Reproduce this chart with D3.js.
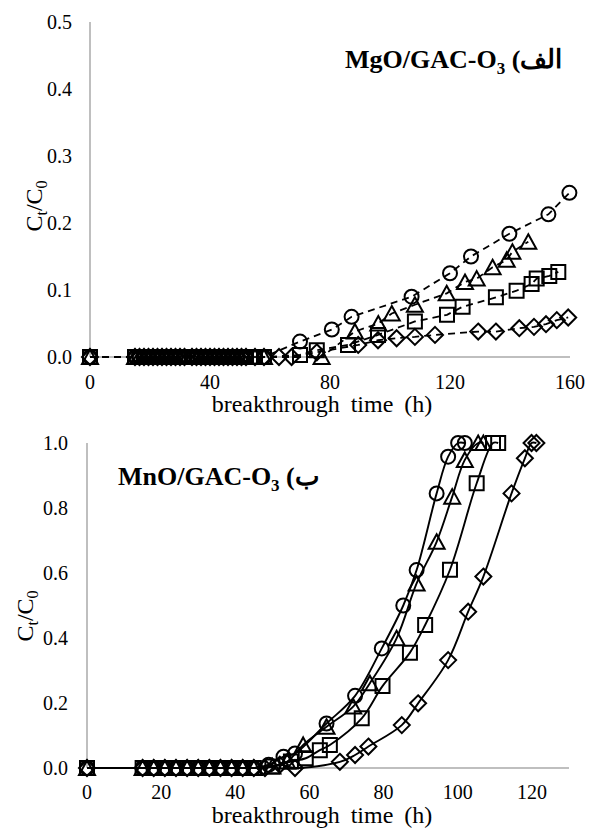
<!DOCTYPE html>
<html>
<head>
<meta charset="utf-8">
<script src="https://cdn.jsdelivr.net/npm/d3@7"></script>
<style>
  html, body { margin: 0; padding: 0; background: #fff; }
  svg { display: block; }
</style>
</head>
<body>
<div id="chart"></div>
<script>
// ---- datos: panel superior (MgO/GAC-O3), tiempo en h y Ct/C0 ----
const mgoZeroT = [0, 15, 16.5, 18, 19.5, 21, 22.5, 24, 25.5, 27, 28.5, 30, 31.5, 34, 35.5, 37, 38.5, 40, 41.5, 43, 44.5, 46, 47.5, 49, 50.5, 52, 55, 58];

const mgoCircleT = [70, 80.6, 87.2, 107.2, 120, 127, 139.8, 152.8, 159.8];
const mgoCircleV = [0.023, 0.041, 0.060, 0.090, 0.125, 0.150, 0.184, 0.213, 0.245];

const mgoTriangleT = [77.2, 88.3, 96.1, 100.6, 108.3, 118.9, 125, 128.9, 134.2, 138.9, 140.8, 146.1];
const mgoTriangleV = [0, 0.038, 0.050, 0.065, 0.078, 0.095, 0.112, 0.117, 0.134, 0.145, 0.157, 0.172];

const mgoSquareT = [70, 75.6, 86, 96, 108.3, 119, 124.2, 135.3, 142.2, 147.2, 148.9, 153.1, 156.1];
const mgoSquareV = [0.003, 0.010, 0.018, 0.033, 0.053, 0.063, 0.075, 0.089, 0.099, 0.109, 0.117, 0.121, 0.127];

const mgoDiamondT = [63, 67.2, 75.6, 89.4, 96, 102.2, 108.3, 115, 129.4, 135.3, 143.1, 148, 152, 155.6, 159.4];
const mgoDiamondV = [0, 0, 0.007, 0.018, 0.025, 0.028, 0.030, 0.033, 0.038, 0.038, 0.043, 0.045, 0.049, 0.055, 0.059];

const mgoXTicks = [0, 40, 80, 120, 160];
const mgoYTicks = [0, 0.1, 0.2, 0.3, 0.4, 0.5];

// ---- datos: panel inferior (MnO/GAC-O3) ----
const mnoZeroT = [0, 15, 18, 21, 24, 27, 30, 33, 36, 39, 42, 45];

const mnoCircleT = [49, 53, 56.1, 64.6, 72.3, 79.5, 85.3, 88.9, 94.3, 97.4, 100.1, 101.9];
const mnoCircleV = [0.01, 0.035, 0.045, 0.137, 0.222, 0.368, 0.50, 0.609, 0.845, 0.958, 1.0, 1.0];

const mnoTriangleT = [50, 54, 58.3, 64.6, 71.8, 76.3, 83.5, 88.9, 94.3, 98.5, 101.9, 105.5, 106.9];
const mnoTriangleV = [0.005, 0.02, 0.071, 0.127, 0.189, 0.261, 0.399, 0.568, 0.696, 0.835, 0.948, 1.0, 1.0];

const mnoSquareT = [50, 55, 59, 62.8, 65.5, 74.1, 79.7, 87.1, 91.2, 97.9, 105.1, 109.5, 110.9];
const mnoSquareV = [0.005, 0.02, 0.03, 0.055, 0.071, 0.153, 0.252, 0.355, 0.44, 0.61, 0.876, 1.0, 1.0];

const mnoDiamondT = [48, 52, 56.1, 68.2, 72.3, 75.9, 84.9, 89.3, 97.4, 102.8, 106.9, 114.5, 118.1, 119.9, 121.2];
const mnoDiamondV = [0, 0.01, 0, 0.019, 0.04, 0.066, 0.132, 0.199, 0.332, 0.481, 0.589, 0.845, 0.953, 1.0, 1.0];

const mnoXTicks = [0, 20, 40, 60, 80, 100, 120];
const mnoYTicks = [0, 0.2, 0.4, 0.6, 0.8, 1.0];

const width = 591;
const height = 828;
const serif = '"Liberation Serif", "Times New Roman", serif';

const svg = d3.select('#chart').append('svg')
  .attr('width', width)
  .attr('height', height);

// une ceros + puntos de ruptura en una sola serie
function build(zeroT, t, v) {
  return zeroT.map(d => ({ t: d, v: 0 })).concat(t.map((d, i) => ({ t: d, v: v[i] })));
}

// formas de los marcadores
function markerPath(shape) {
  const p = d3.path();
  if (shape === 'circle') {
    p.arc(0, 0, 7, 0, 2 * Math.PI);
  } else if (shape === 'square') {
    p.rect(-7, -7, 14, 14);
  } else if (shape === 'triangle') {
    p.moveTo(0, -7.5); p.lineTo(8, 7); p.lineTo(-8, 7); p.closePath();
  } else {
    p.moveTo(0, -8); p.lineTo(8, 0); p.lineTo(0, 8); p.lineTo(-8, 0); p.closePath();
  }
  return p.toString();
}

function drawPanel(o) {
  const x = d3.scaleLinear().domain(o.xDomain).range([o.left, o.right]);
  const y = d3.scaleLinear().domain(o.yDomain).range([o.bottom, o.top]);
  const g = svg.append('g');

  // ejes (solo líneas grises)
  g.append('line')
    .attr('x1', x(0)).attr('x2', x(0))
    .attr('y1', y(o.yDomain[1])).attr('y2', y(0))
    .attr('stroke', '#bfbfbf').attr('stroke-width', 2);
  g.append('line')
    .attr('x1', x(0)).attr('x2', x(o.xDomain[1]))
    .attr('y1', y(0)).attr('y2', y(0))
    .attr('stroke', '#bfbfbf').attr('stroke-width', 2);

  // etiquetas de ticks
  g.selectAll('.ytick').data(o.yTicks).enter().append('text')
    .attr('x', x(0) - o.yTickGap)
    .attr('y', d => y(d))
    .attr('dy', '0.35em')
    .attr('text-anchor', 'end')
    .attr('font-family', serif).attr('font-size', 20).attr('fill', '#000')
    .text(d => d.toFixed(1));
  g.selectAll('.xtick').data(o.xTicks).enter().append('text')
    .attr('x', d => x(d))
    .attr('y', o.xTickY)
    .attr('text-anchor', 'middle')
    .attr('font-family', serif).attr('font-size', 20).attr('fill', '#000')
    .text(d => d);

  // series
  const line = d3.line().x(d => x(d.t)).y(d => y(d.v)).curve(o.curve);
  o.series.forEach(s => {
    g.append('path')
      .attr('d', line(s.data))
      .attr('fill', 'none')
      .attr('stroke', '#000')
      .attr('stroke-width', o.lineWidth)
      .attr('stroke-dasharray', o.dash);
  });
  o.series.forEach(s => {
    g.selectAll(null).data(s.data).enter().append('path')
      .attr('transform', d => `translate(${x(d.t)},${y(d.v)})`)
      .attr('d', markerPath(s.shape))
      .attr('fill', 'none')
      .attr('stroke', '#000')
      .attr('stroke-width', 2);
  });

  // título del eje x
  g.append('text')
    .attr('x', o.xTitleX).attr('y', o.xTitleY)
    .attr('text-anchor', 'middle')
    .attr('font-family', serif).attr('font-size', 24)
    .attr('word-spacing', 5)
    .text('breakthrough time (h)');

  // título del eje y: Ct/C0
  const yt = g.append('text')
    .attr('transform', `translate(${o.yTitleX},${o.yTitleY}) rotate(-90)`)
    .attr('text-anchor', 'middle')
    .attr('font-family', serif).attr('font-size', 24);
  yt.append('tspan').text('C');
  yt.append('tspan').attr('font-size', 16).attr('dy', 5).text('t');
  yt.append('tspan').attr('dy', -5).text('/C');
  yt.append('tspan').attr('font-size', 16).attr('dy', 5).text('0');

  // etiqueta del panel
  const lab = g.append('text')
    .attr('x', o.labelX).attr('y', o.labelY)
    .attr('font-family', serif).attr('font-size', 26).attr('font-weight', 'bold');
  lab.append('tspan').text(o.labelMain);
  lab.append('tspan').attr('font-size', 17).attr('dy', 6).text('3');
  lab.append('tspan').attr('dy', -6).text(' ' + o.labelAr + '\u200F');
}

drawPanel({
  xDomain: [0, 160], yDomain: [0, 0.5],
  left: 90, right: 570, top: 22, bottom: 357,
  xTicks: mgoXTicks, yTicks: mgoYTicks,
  yTickGap: 18, xTickY: 389,
  xTitleX: 322, xTitleY: 412,
  yTitleX: 42, yTitleY: 206,
  labelX: 345, labelY: 68, labelMain: 'MgO/GAC-O', labelAr: 'الف)',
  curve: d3.curveLinear, lineWidth: 1.8, dash: '7,5',
  series: [
    { shape: 'circle', data: build(mgoZeroT, mgoCircleT, mgoCircleV) },
    { shape: 'triangle', data: build(mgoZeroT, mgoTriangleT, mgoTriangleV) },
    { shape: 'square', data: build(mgoZeroT, mgoSquareT, mgoSquareV) },
    { shape: 'diamond', data: build(mgoZeroT, mgoDiamondT, mgoDiamondV) }
  ]
});

drawPanel({
  xDomain: [0, 130], yDomain: [0, 1.0],
  left: 87, right: 569, top: 443, bottom: 768,
  xTicks: mnoXTicks, yTicks: mnoYTicks,
  yTickGap: 19, xTickY: 799,
  xTitleX: 322, xTitleY: 823,
  yTitleX: 33, yTitleY: 616,
  labelX: 118, labelY: 485, labelMain: 'MnO/GAC-O', labelAr: 'ب)',
  curve: d3.curveCatmullRom.alpha(0.5), lineWidth: 1.9, dash: null,
  series: [
    { shape: 'circle', data: build(mnoZeroT, mnoCircleT, mnoCircleV) },
    { shape: 'triangle', data: build(mnoZeroT, mnoTriangleT, mnoTriangleV) },
    { shape: 'square', data: build(mnoZeroT, mnoSquareT, mnoSquareV) },
    { shape: 'diamond', data: build(mnoZeroT, mnoDiamondT, mnoDiamondV) }
  ]
});
</script>
</body>
</html>
